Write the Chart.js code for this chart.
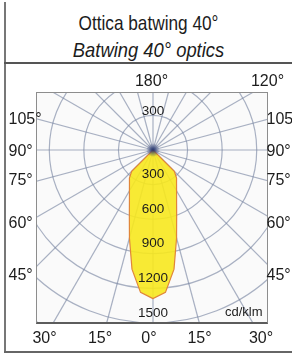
<!DOCTYPE html>
<html>
<head>
<meta charset="utf-8">
<script src="https://cdn.jsdelivr.net/npm/chart.js@4.4.1/dist/chart.umd.min.js"></script>
<style>
  html, body { margin: 0; padding: 0; background: #fff; }
  body {
    width: 292px; height: 354px; position: relative; overflow: hidden;
    font-family: "Liberation Sans", Arial, sans-serif; color: #1c1c1c;
  }
  .line { position: absolute; }
  .title {
    position: absolute; left: 5px; width: 287px; text-align: center;
    font-size: 21px; line-height: 1; white-space: nowrap;
  }
  #plotBox {
    position: absolute; left: 36px; top: 92px; width: 232px; height: 232px;
    overflow: hidden; background: #fafafa;
  }
  #plotBox canvas { position: absolute; left: -125px; top: -184px; }
  #boxBorder {
    position: absolute; left: 36px; top: 92px; width: 230px; height: 229px;
    border: 1px solid #8d8d8d; border-bottom: 2px solid #5c5c5c; pointer-events: none;
  }
  .lbl {
    position: absolute; font-size: 16px; line-height: 1; white-space: nowrap;
    transform: translateY(-50%);
  }
  .lbl.mid { transform: translate(-50%, -50%); }
  #unit { position: absolute; left: 225px; top: 305px; font-size: 13px; line-height: 1; }
</style>
</head>
<body>

<!-- frame -->
<div class="line" style="left:4px; top:2px; width:2px; height:351px; background:#777;"></div>
<div class="line" style="left:4px; top:62px; width:288px; height:2px; background:#555;"></div>
<div class="line" style="left:4px; top:351px; width:288px; height:2px; background:#666;"></div>

<!-- no narrow font installed, so squeeze the regular one -->
<div class="title" style="top:12px; transform:scaleX(0.82);">Ottica batwing 40°</div>
<div class="title" style="top:39px; font-style:italic; transform:scaleX(0.875);">Batwing 40° optics</div>

<div id="plotBox"><canvas id="polar" width="484" height="484"></canvas></div>
<div id="boxBorder"></div>
<div id="unit">cd/klm</div>
<div id="angleLabels"></div>

<script>
// gamma angles of the measured half plane (C0-C180), degrees from nadir
const gammaAngles = [0, 5, 10, 15, 20, 25, 30, 35, 40, 45, 50, 55, 60, 65, 70, 75, 80, 85, 90,
                     95, 100, 105, 110, 115, 120, 125, 130, 135, 140, 145, 150, 155, 160, 165, 170, 175, 180];
// luminous intensity, cd/klm
const intensity = [1290, 1240, 1050, 790, 600, 484, 409, 356, 318, 262, 0, 0, 0, 0, 0, 0, 0, 0, 0,
                   0, 0, 0, 0, 0, 0, 0, 0, 0, 0, 0, 0, 0, 0, 0, 0, 0, 0];
// radial rings that carry a value label
const ringLabels = [300, 600, 900, 1200, 1500];

// angle labels around the box
const sideAngles = ['105°', '90°', '75°', '60°', '45°'];
const sideY = [119, 151, 180, 223, 275];
const bottomAngles = ['30°', '15°', '0°', '15°', '30°'];
const bottomX = [44.5, 100, 149, 199.5, 261];
const topAngles = ['180°', '120°'];
const topX = [151.5, 267.5];

// full circle for the radar: 5 degree steps, mirrored on the other half plane
const labels = [];
const values = [];
for (let i = 0; i < 72; i++) {
    labels.push(String(i * 5));
    values.push(i <= 36 ? intensity[i] : intensity[72 - i]);
}

const gridColor = 'rgba(118,130,160,0.62)';

const ringText = {
    id: 'ringText',
    afterDatasetsDraw(chart) {
        const r = chart.scales.r;
        const ctx = chart.ctx;
        ctx.save();
        // dark spot where all the rays meet
        const g = ctx.createRadialGradient(r.xCenter, r.yCenter, 0, r.xCenter, r.yCenter, 7);
        g.addColorStop(0, 'rgba(35,50,110,0.95)');
        g.addColorStop(1, 'rgba(35,50,110,0)');
        ctx.fillStyle = g;
        ctx.beginPath();
        ctx.arc(r.xCenter, r.yCenter, 7, 0, Math.PI * 2);
        ctx.fill();

        ctx.fillStyle = '#1c1c1c';
        ctx.font = '13.5px "Liberation Sans", Arial, sans-serif';
        ctx.textAlign = 'center';
        ctx.textBaseline = 'middle';
        ringLabels.forEach(v => {
            const d = r.getDistanceFromCenterForValue(v);
            ctx.fillText(String(v), r.xCenter, r.yCenter + d - 10);
        });
        const d300 = r.getDistanceFromCenterForValue(ringLabels[0]);
        ctx.fillText(String(ringLabels[0]), r.xCenter, r.yCenter - d300 - 4);
        ctx.restore();
    }
};

new Chart(document.getElementById('polar'), {
    type: 'radar',
    data: {
        labels: labels,
        datasets: [{
            data: values,
            fill: true,
            backgroundColor: 'rgba(247,232,30,0.9)',
            borderColor: '#e0863a',
            borderWidth: 1.2,
            pointRadius: 0
        }]
    },
    options: {
        responsive: false,
        animation: false,
        devicePixelRatio: 1,
        plugins: { legend: { display: false }, tooltip: { enabled: false } },
        scales: {
            r: {
                min: 0,
                max: 2100,
                startAngle: 180,
                ticks: { display: false, stepSize: 300 },
                grid: { circular: true, color: gridColor, lineWidth: 1.2 },
                angleLines: {
                    display: true,
                    color: gridColor,
                    lineWidth: ctx => (ctx.index % 3 === 0 ? 1.2 : 0)
                },
                pointLabels: { display: false }
            }
        }
    },
    plugins: [ringText]
});

// angle labels outside the box
const holder = document.getElementById('angleLabels');
function addLabel(text, x, y, cls) {
    const el = document.createElement('div');
    el.className = 'lbl' + (cls ? ' ' + cls : '');
    el.textContent = text;
    el.style.left = x + 'px';
    el.style.top = y + 'px';
    holder.appendChild(el);
}
sideAngles.forEach((t, i) => {
    addLabel(t, 8.5, sideY[i]);
    addLabel(t, 266.5, sideY[i]);
});
bottomAngles.forEach((t, i) => addLabel(t, bottomX[i], 338, 'mid'));
topAngles.forEach((t, i) => addLabel(t, topX[i], 81, 'mid'));
</script>
</body>
</html>
